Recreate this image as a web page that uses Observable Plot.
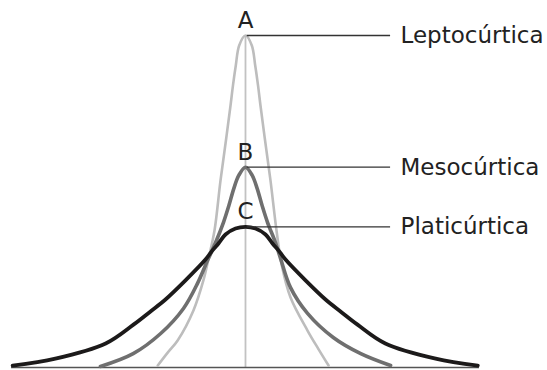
<!DOCTYPE html>
<html>
<head>
<meta charset="utf-8">
<script src="https://cdn.jsdelivr.net/npm/d3@7"></script>
<script src="https://cdn.jsdelivr.net/npm/@observablehq/plot@0.6"></script>
<style>
  html, body { margin: 0; padding: 0; background: #fff; }
  svg { display: block; }
</style>
</head>
<body>
<script>
// Series names and letters
const seriesNames = ["Leptocúrtica", "Mesocúrtica", "Platicúrtica"];
const seriesLetters = ["A", "B", "C"];

// Leptocúrtica (light gray)
const leptoX = [-1.50, -1.33, -1.16, -0.89, -0.72, -0.632, -0.53, -0.427, -0.33, -0.256, -0.214, -0.166, -0.108, 0,
                0.108, 0.166, 0.214, 0.256, 0.33, 0.427, 0.53, 0.62, 0.77, 1.06, 1.25, 1.42];
const leptoY = [0.06, 0.45, 0.82, 1.73, 2.64, 3.30, 4.15, 5.67, 6.94, 7.94, 8.55, 9.15, 9.76, 10.06,
                9.76, 9.15, 8.55, 7.94, 6.94, 5.67, 4.15, 3.10, 2.12, 1.12, 0.55, 0.06];

// Mesocúrtica (mid gray)
const mesoX = [-2.48, -1.92, -1.45, -1.06, -0.82, -0.65, -0.513, -0.376, -0.285, -0.20, -0.115, 0,
               0.115, 0.20, 0.285, 0.376, 0.513, 0.60, 0.77, 1.06, 1.50, 1.97, 2.48];
const mesoY = [0.03, 0.42, 1.03, 1.79, 2.55, 3.24, 3.78, 4.40, 4.90, 5.42, 5.82, 6.07,
               5.82, 5.42, 4.90, 4.40, 3.78, 3.30, 2.42, 1.64, 0.91, 0.42, 0.06];

// Platicúrtica (black)
const platiX = [-3.98, -3.25, -2.39, -1.915, -1.624, -1.368, -1.026, -0.684, -0.564, -0.462, -0.342, -0.171, 0,
                0.171, 0.342, 0.462, 0.564, 0.684, 1.026, 1.368, 1.624, 1.915, 2.39, 3.25, 3.97];
const platiY = [0.06, 0.27, 0.73, 1.30, 1.70, 2.06, 2.64, 3.27, 3.55, 3.76, 4.03, 4.21, 4.26,
                4.21, 4.03, 3.76, 3.55, 3.27, 2.64, 2.06, 1.70, 1.30, 0.73, 0.27, 0.06];

const toPts = (xs, ys) => xs.map((x, i) => ({x, y: ys[i]}));
const lepto = toPts(leptoX, leptoY);
const meso = toPts(mesoX, mesoY);
const plati = toPts(platiX, platiY);

const peaks = [d3.max(leptoY), d3.max(mesoY), d3.max(platiY)];
const labels = seriesNames.map((name, i) => ({name, letter: seriesLetters[i], peak: peaks[i]}));

const leaderEnd = 2.48;
const labelX = 2.65;

const chart = Plot.plot({
  width: 547,
  height: 370,
  margin: 0,
  style: {background: "#fff", fontFamily: "DejaVu Sans, Verdana, sans-serif"},
  x: {domain: [-4, 4], range: [11, 479], axis: null},
  y: {domain: [0, 10], range: [367, 37], axis: null},
  marks: [
    Plot.ruleX([0], {y1: 0, y2: peaks[0], stroke: "#c2c2c2", strokeWidth: 1.8}),
    Plot.ruleY([0], {x1: -4, x2: 4, stroke: "#555", strokeWidth: 1.6}),
    Plot.line(lepto, {x: "x", y: "y", curve: "catmull-rom", stroke: "#bdbdbd", strokeWidth: 2.6}),
    Plot.line(meso, {x: "x", y: "y", curve: "catmull-rom", stroke: "#6f6f6f", strokeWidth: 3.6}),
    Plot.line(plati, {x: "x", y: "y", curve: "catmull-rom", stroke: "#1c1a1a", strokeWidth: 3.8}),
    Plot.ruleY(labels, {y: "peak", x1: 0.03, x2: leaderEnd, stroke: "#333", strokeWidth: 1.3}),
    Plot.text(labels, {x: 0, y: "peak", text: "letter", dy: -15, fontSize: 23, fill: "#222", textAnchor: "middle"}),
    Plot.text(labels, {x: labelX, y: "peak", text: "name", fontSize: 23, fill: "#222", textAnchor: "start"})
  ]
});
document.body.appendChild(chart);
</script>
</body>
</html>
